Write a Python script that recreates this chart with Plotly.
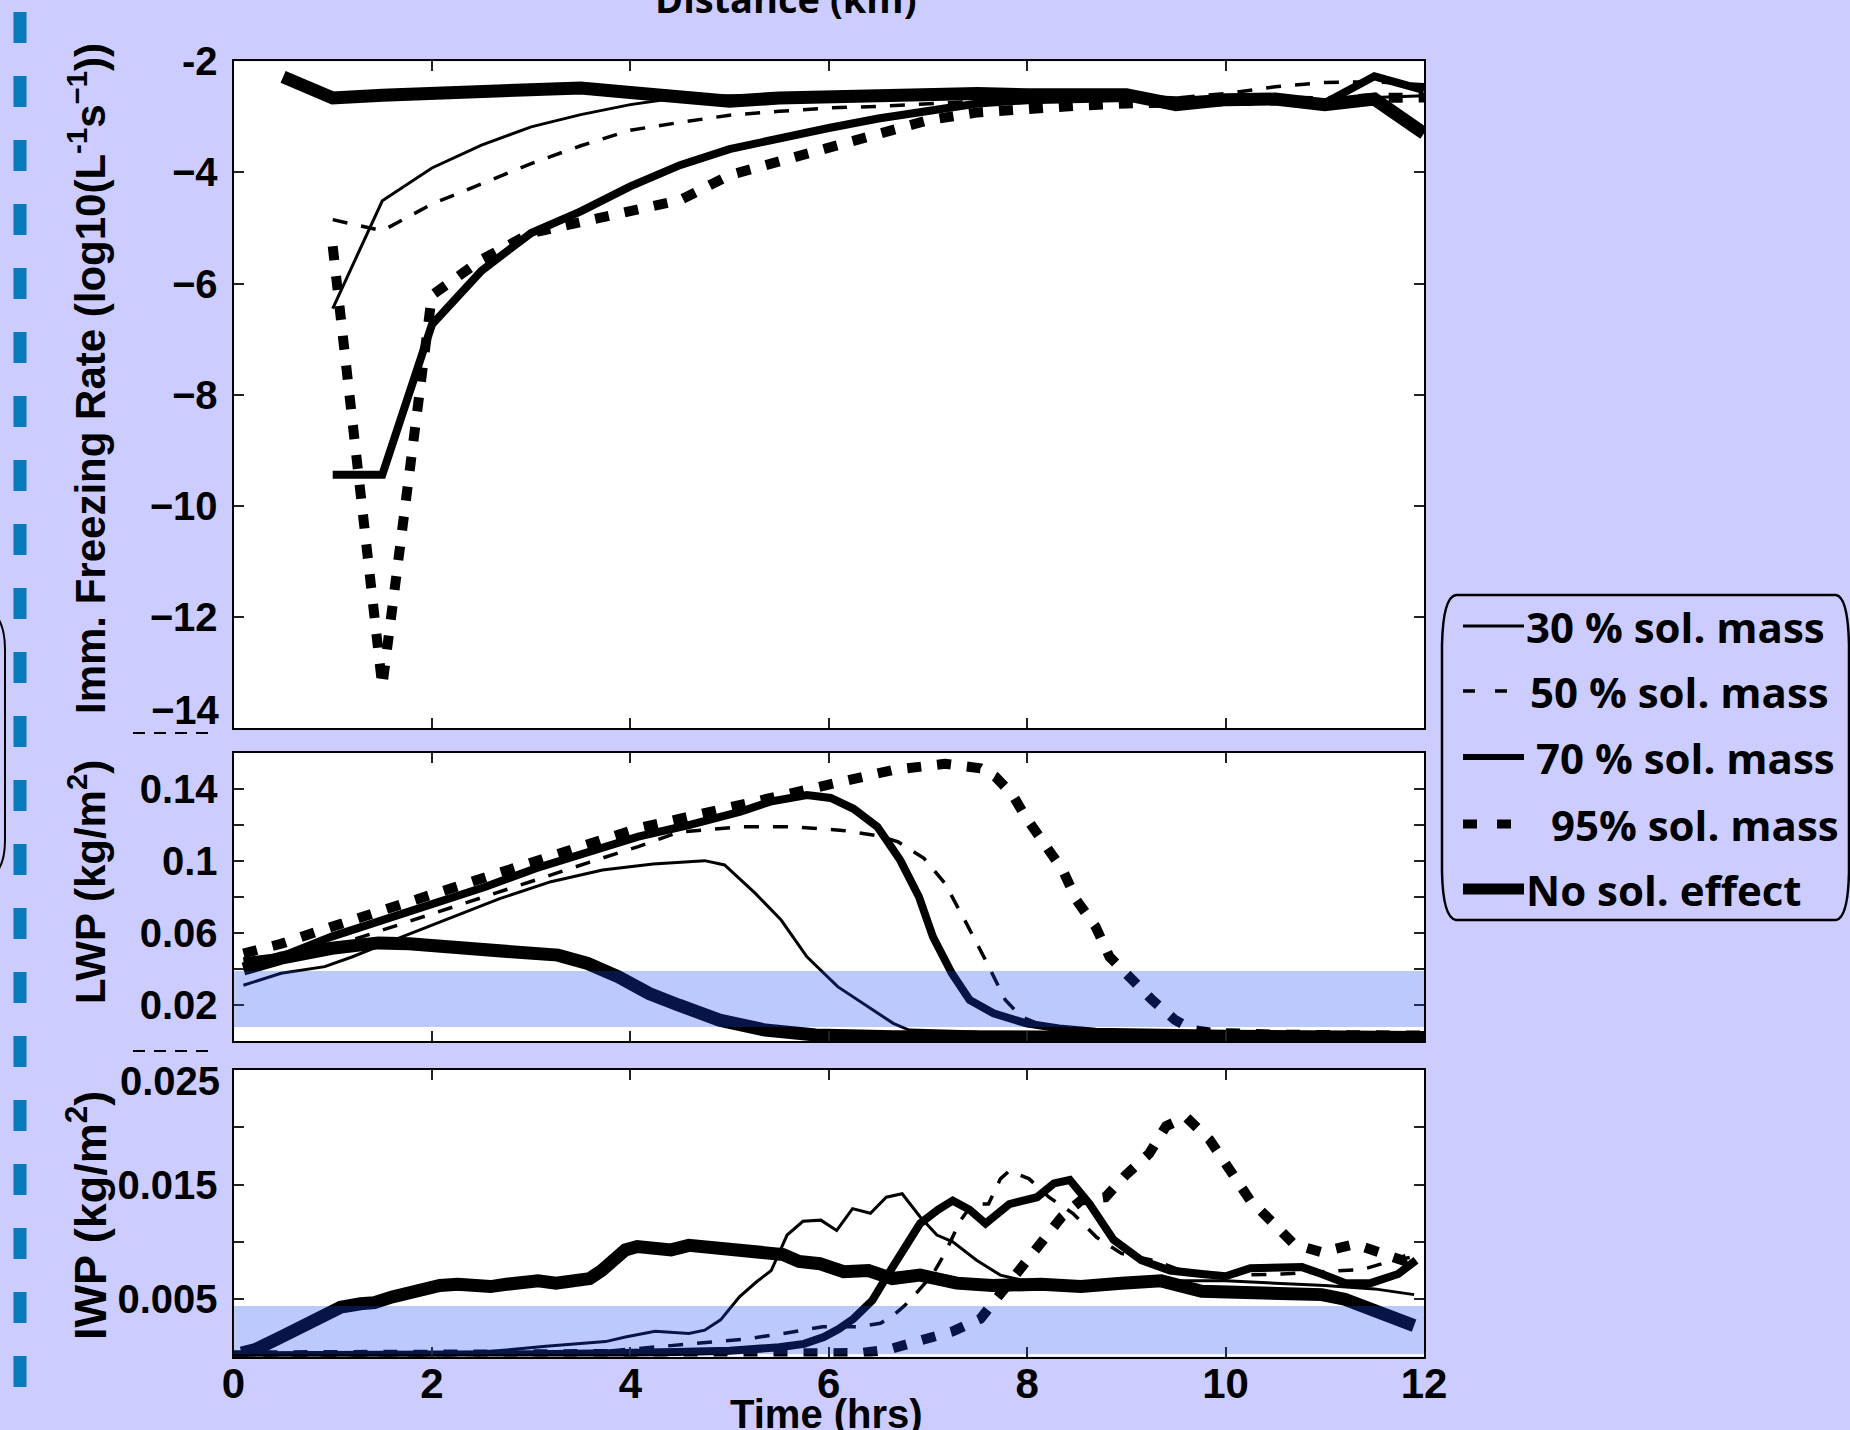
import plotly.graph_objects as go

W, H = 1850, 1430

# ---------------- data ----------------
series_names = ["30 % sol. mass", "50 % sol. mass", "70 % sol. mass", " 95% sol. mass", "No sol. effect"]

# Top panel: immersion freezing rate (log10(L^-1 s^-1)) vs time (hrs)
t_top = [0.5, 1.0, 1.5, 2.0, 2.5, 3.0, 3.5, 4.0, 4.5, 5.0, 5.5, 6.0,
         6.5, 7.0, 7.5, 8.0, 8.5, 9.0, 9.5, 10.0, 10.5, 11.0, 11.5, 12.0]
frz_30 = [None, -6.45, -4.51, -3.92, -3.51, -3.18, -2.96, -2.78, -2.65, -2.62, -2.62, -2.60,
          -2.60, -2.60, -2.60, -2.62, -2.62, -2.62, -2.70, -2.66, -2.66, -2.70, -2.65, -2.62]
frz_50 = [None, -4.85, -5.05, -4.57, -4.20, -3.84, -3.52, -3.24, -3.10, -2.97, -2.90, -2.84,
          -2.81, -2.77, -2.72, -2.70, -2.68, -2.66, -2.66, -2.58, -2.46, -2.38, -2.37, -2.42]
frz_70 = [None, -9.44, -9.44, -6.74, -5.77, -5.09, -4.70, -4.25, -3.87, -3.58, -3.38, -3.20,
          -3.03, -2.88, -2.76, -2.70, -2.68, -2.66, -2.70, -2.68, -2.70, -2.75, -2.27, -2.52]
frz_95 = [None, -5.33, -13.25, -6.21, -5.57, -5.09, -4.89, -4.72, -4.50, -4.05, -3.80, -3.52,
          -3.28, -3.06, -2.92, -2.85, -2.80, -2.76, -2.74, -2.70, -2.70, -2.72, -2.66, -2.65]
frz_no = [-2.28, -2.66, -2.61, -2.58, -2.55, -2.52, -2.48, -2.56, -2.64, -2.72, -2.66, -2.63,
          -2.64, -2.62, -2.58, -2.60, -2.60, -2.60, -2.78, -2.69, -2.68, -2.78, -2.68, -3.30]

# Middle panel: LWP (kg/m2)
lwp_30_t = [0.1, 0.48, 0.92, 1.2, 1.66, 2.17, 2.69, 3.2, 3.72, 4.23, 4.75, 4.95, 5.26, 5.52,
            5.78, 6.09, 6.4, 6.65, 6.81, 7.5, 9.0, 10.5, 12.0]
lwp_30 = [0.031, 0.0376, 0.0413, 0.0468, 0.057, 0.0681, 0.0792, 0.0885, 0.095, 0.0983, 0.1002,
          0.0978, 0.082, 0.0672, 0.0468, 0.0302, 0.019, 0.0098, 0.0061, 0.005, 0.0045, 0.004, 0.0035]
lwp_50_t = [0.1, 0.48, 0.99, 1.51, 2.02, 2.54, 3.05, 3.57, 4.08, 4.49, 5.11, 5.62, 6.14, 6.5, 6.7,
            6.96, 7.17, 7.37, 7.58, 7.78, 7.94, 8.18, 8.46, 9.0, 10.5, 12.0]
lwp_50 = [0.040, 0.0443, 0.0524, 0.0617, 0.0709, 0.080, 0.0895, 0.099, 0.108, 0.116, 0.119, 0.119,
          0.117, 0.114, 0.1106, 0.1015, 0.0876, 0.0672, 0.045, 0.0228, 0.0135, 0.008, 0.0043, 0.0035,
          0.003, 0.0028]
lwp_70_t = [0.1, 0.48, 0.99, 1.51, 2.02, 2.54, 3.05, 3.57, 4.08, 4.59, 5.11, 5.41, 5.78, 6.02, 6.25,
            6.49, 6.72, 6.91, 7.05, 7.24, 7.42, 7.66, 7.99, 8.32, 8.69, 10.0, 12.0]
lwp_70 = [0.0443, 0.0468, 0.058, 0.0672, 0.0765, 0.0857, 0.096, 0.1043, 0.1135, 0.120, 0.1274, 0.133,
          0.1367, 0.135, 0.129, 0.119, 0.1005, 0.080, 0.0579, 0.0376, 0.0228, 0.0154, 0.0098, 0.007,
          0.0051, 0.004, 0.0033]
lwp_95_t = [0.1, 0.48, 0.99, 1.51, 2.02, 2.54, 3.05, 3.57, 4.08, 4.59, 5.11, 5.62, 6.14, 6.65, 7.17,
            7.53, 7.68, 7.85, 7.99, 8.18, 8.36, 8.5, 8.69, 8.83, 9.02, 9.26, 9.49, 9.68, 9.87, 10.5, 12.0]
lwp_95 = [0.0486, 0.054, 0.0635, 0.0728, 0.082, 0.0913, 0.1006, 0.1098, 0.1182, 0.1246, 0.1311, 0.1385,
          0.145, 0.1506, 0.154, 0.1515, 0.1468, 0.137, 0.124, 0.1077, 0.0948, 0.078, 0.0635, 0.0468,
          0.0357, 0.0228, 0.0117, 0.0061, 0.0046, 0.0035, 0.003]
lwp_no_t = [0.1, 0.48, 0.99, 1.46, 1.77, 2.24, 2.8, 3.27, 3.57, 3.88, 4.19, 4.49, 4.9, 5.36, 5.87,
            6.65, 8.0, 10.0, 12.0]
lwp_no = [0.040, 0.046, 0.0515, 0.0545, 0.054, 0.0514, 0.0496, 0.0477, 0.0431, 0.0357, 0.0264, 0.0199,
          0.0116, 0.0061, 0.0033, 0.0024, 0.0022, 0.002, 0.0018]

# Bottom panel: IWP (kg/m2)
iwp_30_t = [0.0, 1.0, 2.0, 2.35, 2.8, 3.15, 3.5, 3.75, 3.95, 4.25, 4.59, 4.75, 4.91, 5.1, 5.27, 5.42,
            5.58, 5.74, 5.92, 6.08, 6.24, 6.42, 6.58, 6.74, 6.92, 7.09, 7.25, 7.49, 7.73, 7.93, 8.5,
            9.0, 9.5, 10.0, 10.5, 11.0, 11.5, 11.9]
iwp_30 = [0.0001, 0.0001, 0.0001, 0.0003, 0.0006, 0.0009, 0.0011, 0.0013, 0.0017, 0.0022, 0.0020,
          0.0023, 0.0032, 0.0052, 0.0065, 0.0075, 0.0106, 0.0118, 0.0119, 0.0110, 0.0129, 0.0125,
          0.0139, 0.0142, 0.0122, 0.0106, 0.0100, 0.0084, 0.0071, 0.0067, 0.0063, 0.0064, 0.0066,
          0.0066, 0.0064, 0.0062, 0.0059, 0.0054]
iwp_50_t = [0.0, 2.0, 3.55, 3.95, 4.35, 4.75, 5.14, 5.54, 5.94, 6.3, 6.52, 6.64, 6.76, 6.88, 7.05,
            7.17, 7.33, 7.45, 7.61, 7.73, 7.82, 8.02, 8.22, 8.46, 8.7, 8.95, 9.27, 9.56, 9.84, 10.16,
            10.57, 10.97, 11.38, 11.7, 11.9]
iwp_50 = [0.0001, 0.0001, 0.0003, 0.0006, 0.0009, 0.0012, 0.0015, 0.0020, 0.0026, 0.0026, 0.0029,
          0.0035, 0.0044, 0.0055, 0.0072, 0.0090, 0.0119, 0.0133, 0.0133, 0.0155, 0.0162, 0.0155,
          0.0139, 0.0125, 0.0104, 0.0090, 0.0084, 0.0075, 0.0072, 0.0071, 0.0072, 0.0074, 0.0076,
          0.0084, 0.0087]
iwp_70_t = [0.0, 1.0, 2.0, 3.0, 4.0, 5.0, 5.5, 5.75, 5.95, 6.1, 6.25, 6.44, 6.6, 6.76, 6.92, 7.1,
            7.25, 7.42, 7.58, 7.82, 8.1, 8.27, 8.43, 8.63, 8.87, 9.15, 9.44, 9.76, 10.0, 10.25,
            10.77, 10.97, 11.21, 11.46, 11.74, 11.92]
iwp_70 = [0.0001, 0.0001, 0.0001, 0.0002, 0.0003, 0.0005, 0.0008, 0.0011, 0.0017, 0.0024, 0.0033,
          0.0049, 0.0072, 0.0093, 0.0116, 0.0128, 0.0136, 0.0128, 0.0116, 0.0133, 0.0139, 0.0151,
          0.0154, 0.0133, 0.0102, 0.0084, 0.0075, 0.0072, 0.0070, 0.0077, 0.0078, 0.0072, 0.0064,
          0.0064, 0.0072, 0.0084]
iwp_95_t = [0.0, 3.0, 5.0, 5.91, 6.32, 6.6, 6.92, 7.25, 7.53, 7.73, 7.94, 8.14, 8.35, 8.54, 8.79,
            8.99, 9.23, 9.4, 9.6, 9.84, 10.04, 10.25, 10.45, 10.69, 10.97, 11.3, 11.58, 11.78, 11.9]
iwp_95 = [0.0001, 0.0001, 0.0002, 0.0003, 0.0003, 0.0006, 0.0013, 0.0022, 0.0033, 0.0055, 0.0078,
          0.0102, 0.0122, 0.0136, 0.0139, 0.0158, 0.0177, 0.0201, 0.0209, 0.0189, 0.0163, 0.0136,
          0.0119, 0.0098, 0.0091, 0.0098, 0.0090, 0.0084, 0.0088]
iwp_no_t = [0.08, 0.22, 0.48, 0.76, 0.94, 1.08, 1.28, 1.42, 1.6, 1.76, 1.92, 2.08, 2.26, 2.43, 2.59,
            2.75, 2.91, 3.07, 3.25, 3.43, 3.59, 3.71, 3.87, 3.95, 4.07, 4.25, 4.41, 4.59, 4.75, 4.9,
            5.06, 5.22, 5.42, 5.54, 5.70, 5.91, 6.15, 6.4, 6.64, 6.92, 7.29, 7.65, 8.14, 8.54, 8.95,
            9.35, 9.76, 10.16, 10.57, 10.97, 11.2, 11.38, 11.58, 11.78, 11.9]
iwp_no = [0.0003, 0.0006, 0.0017, 0.0029, 0.0038, 0.0043, 0.0046, 0.0047, 0.0052, 0.0055, 0.0060,
          0.0062, 0.0063, 0.0061, 0.0061, 0.0063, 0.0064, 0.0066, 0.0064, 0.0066, 0.0068, 0.0075,
          0.0087, 0.0093, 0.0096, 0.0094, 0.0093, 0.0097, 0.0096, 0.0095, 0.0094, 0.0091, 0.0089,
          0.0089, 0.0083, 0.0081, 0.0074, 0.0075, 0.0068, 0.0071, 0.0064, 0.0062, 0.0063, 0.0061,
          0.0064, 0.0066, 0.0057, 0.0056, 0.0055, 0.0054, 0.0050, 0.0044, 0.0036, 0.0029, 0.0027]

# shaded bands (kg/m2)
lwp_band = [0.0078, 0.0389]
iwp_band = [0.0002, 0.0044]

# tick labels
x_ticks = [0, 2, 4, 6, 8, 10, 12]
frz_ticks = [-14, -12, -10, -8, -6, -4, -2]
frz_ticktext = ["", "\u221212", "\u221210", "\u22128", "\u22126", "\u22124", "-2"]
frz_low_label = "\u221214"
lwp_ticks = [0, 0.02, 0.04, 0.06, 0.08, 0.10, 0.12, 0.14, 0.16]
lwp_ticktext = ["", "0.02", "", "0.06", "", "0.1", "", "0.14", ""]
iwp_ticks = [0, 0.005, 0.01, 0.015, 0.02, 0.025]
iwp_ticktext = ["", "0.005", "", "0.015", "", ""]
iwp_top_label = "0.025"

# ---------------- styles ----------------
styles = [
    dict(width=3, dash="solid"),
    dict(width=3.5, dash="15px,14px"),
    dict(width=8, dash="solid"),
    dict(width=10, dash="14px,16px"),
    dict(width=13, dash="solid"),
]

def px(x):
    return x / W

def py(y):
    return 1 - y / H

X_DOM = [px(233.5), px(1424)]
TOP_DOM = [py(728), py(61.3)]
MID_DOM = [py(1041), py(753)]
BOT_DOM = [py(1356.5), py(1070)]

fig = go.Figure()

panels = [
    ("x", "y", [(t_top, frz_30), (t_top, frz_50), (t_top, frz_70), (t_top, frz_95), (t_top, frz_no)]),
    ("x2", "y2", [(lwp_30_t, lwp_30), (lwp_50_t, lwp_50), (lwp_70_t, lwp_70), (lwp_95_t, lwp_95), (lwp_no_t, lwp_no)]),
    ("x3", "y3", [(iwp_30_t, iwp_30), (iwp_50_t, iwp_50), (iwp_70_t, iwp_70), (iwp_95_t, iwp_95), (iwp_no_t, iwp_no)]),
]
for xa, ya, series in panels:
    for i, (xs, ys) in enumerate(series):
        fig.add_trace(go.Scatter(
            x=xs, y=ys, mode="lines", name=series_names[i], showlegend=False,
            xaxis=xa, yaxis=ya, connectgaps=False,
            line=dict(color="black", width=styles[i]["width"], dash=styles[i]["dash"], shape="linear"),
        ))

tickfont_y = dict(family="Liberation Sans, Arial, sans-serif", size=40, color="black", weight="bold")
tickfont_x = dict(family="Liberation Sans, Arial, sans-serif", size=42, color="black", weight="bold")

common_axis = dict(showline=True, linecolor="black", linewidth=2, mirror="ticks",
                   ticks="inside", ticklen=10, tickwidth=1.5, tickcolor="#222",
                   showgrid=False, zeroline=False, automargin=False)

def xaxis(anchor, labels):
    return dict(domain=X_DOM, anchor=anchor, range=[0, 12], tickvals=x_ticks,
                showticklabels=labels, tickfont=tickfont_x, ticklabelstandoff=-11, **common_axis)

fig.update_layout(
    width=W, height=H,
    margin=dict(l=0, r=0, t=0, b=0),
    paper_bgcolor="#ccccff", plot_bgcolor="white",
    showlegend=False,
    xaxis=xaxis("y", False),
    xaxis2=xaxis("y2", False),
    xaxis3=xaxis("y3", True),
    yaxis=dict(domain=TOP_DOM, anchor="x", range=[-14, -2], tickvals=frz_ticks, ticktext=frz_ticktext,
               tickfont=tickfont_y, ticklabelstandoff=6, **common_axis),
    yaxis2=dict(domain=MID_DOM, anchor="x2", range=[0, 0.16], tickvals=lwp_ticks, ticktext=lwp_ticktext,
                tickfont=tickfont_y, ticklabelstandoff=6, **common_axis),
    yaxis3=dict(domain=BOT_DOM, anchor="x3", range=[0, 0.025], tickvals=iwp_ticks, ticktext=iwp_ticktext,
                tickfont=tickfont_y, ticklabelstandoff=6, **common_axis),
)

shapes = []
# translucent blue bands drawn above the curves
band_fill = "rgba(20,70,240,0.29)"
shapes.append(dict(type="rect", xref="x2 domain", yref="y2", x0=0, x1=1, y0=lwp_band[0], y1=lwp_band[1],
                   fillcolor=band_fill, line=dict(width=0), layer="above"))
shapes.append(dict(type="rect", xref="x3 domain", yref="y3", x0=0, x1=1, y0=iwp_band[0], y1=iwp_band[1],
                   fillcolor=band_fill, line=dict(width=0), layer="above"))

# dashed blue vertical line on left edge
shapes.append(dict(type="line", xref="paper", yref="paper", x0=px(20), x1=px(20), y0=py(12), y1=py(1387),
                   line=dict(color="#0779bd", width=13, dash="31px,33px")))

# short black dashed separators
for yy in (733, 1051):
    shapes.append(dict(type="line", xref="paper", yref="paper", x0=px(133), x1=px(210), y0=py(yy), y1=py(yy),
                       line=dict(color="black", width=2, dash="12px,9px")))

def P(x, y):
    return f"{px(x):.5f},{py(y):.5f}"

# clipped bracket on far left
shapes.append(dict(type="path", xref="paper", yref="paper",
                   path=f"M {P(-20,608)} Q {P(5,610)} {P(5,650)} L {P(5,840)} Q {P(5,878)} {P(-20,880)}",
                   line=dict(color="black", width=2)))

# legend box (rounded sides)
lb = f"M {P(1456,595)} L {P(1836,595)} Q {P(1848,597)} {P(1849,645)} L {P(1849,872)} Q {P(1848,918)} {P(1836,920)} " \
     f"L {P(1456,920)} Q {P(1443,918)} {P(1442,872)} L {P(1442,645)} Q {P(1443,597)} {P(1456,595)} Z"
shapes.append(dict(type="path", xref="paper", yref="paper", path=lb,
                   line=dict(color="black", width=2.5), fillcolor="rgba(0,0,0,0)"))

legend_rows = [626, 691, 757, 824, 889]
legend_text_x = [1524, 1528, 1534, 1538, 1524]
legend_sample = [dict(width=3, dash="solid"), dict(width=3.5, dash="12px,20px"),
                 dict(width=6, dash="solid"), dict(width=9, dash="14px,20px"), dict(width=11, dash="solid")]
for i, yy in enumerate(legend_rows):
    shapes.append(dict(type="line", xref="paper", yref="paper", x0=px(1463), x1=px(1524), y0=py(yy), y1=py(yy),
                       line=dict(color="black", width=legend_sample[i]["width"], dash=legend_sample[i]["dash"])))

fig.update_layout(shapes=shapes)

annotations = []
for i, yy in enumerate(legend_rows):
    annotations.append(dict(xref="paper", yref="paper", x=px(legend_text_x[i]), y=py(yy), xanchor="left",
                            yanchor="middle", text=series_names[i], showarrow=False,
                            font=dict(family="Open Sans, sans-serif", size=42, color="black", weight="bold")))

tick_label_font = dict(family="Liberation Sans, Arial, sans-serif", size=40, color="black", weight="bold")
annotations.append(dict(xref="paper", yref="paper", x=px(222), y=py(710), xanchor="right", yanchor="middle",
                        text=frz_low_label, showarrow=False, font=tick_label_font))
annotations.append(dict(xref="paper", yref="paper", x=px(222), y=py(1081), xanchor="right", yanchor="middle",
                        text=iwp_top_label, showarrow=False, font=tick_label_font))

title_font = dict(family="Liberation Sans, Arial, sans-serif", size=42, color="black", weight="bold")
annotations.append(dict(xref="paper", yref="paper", x=px(87), y=py(379), textangle=-90, showarrow=False,
                        text="Imm. Freezing Rate (log10(L<sup>-1</sup>s<sup>\u22121</sup>))", font=title_font,
                        xanchor="center", yanchor="middle"))
annotations.append(dict(xref="paper", yref="paper", x=px(87), y=py(882), textangle=-90, showarrow=False,
                        text="LWP (kg/m<sup>2</sup>)", font=title_font, xanchor="center", yanchor="middle"))
annotations.append(dict(xref="paper", yref="paper", x=px(87), y=py(1216), textangle=-90, showarrow=False,
                        text="IWP (kg/m<sup>2</sup>)",
                        font=dict(family="Liberation Sans, Arial, sans-serif", size=45, color="black", weight="bold"),
                        xanchor="center", yanchor="middle"))
annotations.append(dict(xref="paper", yref="paper", x=px(826), y=py(1414), showarrow=False,
                        text="Time (hrs)", font=dict(family="Liberation Sans, Arial, sans-serif", size=40,
                                                     color="black", weight="bold"),
                        xanchor="center", yanchor="middle"))
annotations.append(dict(xref="paper", yref="paper", x=px(786), y=py(-2), showarrow=False,
                        text="Distance (km)", font=dict(family="Open Sans, sans-serif", size=38,
                                                        color="black", weight="bold"),
                        xanchor="center", yanchor="middle"))
fig.update_layout(annotations=annotations)

fig.write_html("out.html")
